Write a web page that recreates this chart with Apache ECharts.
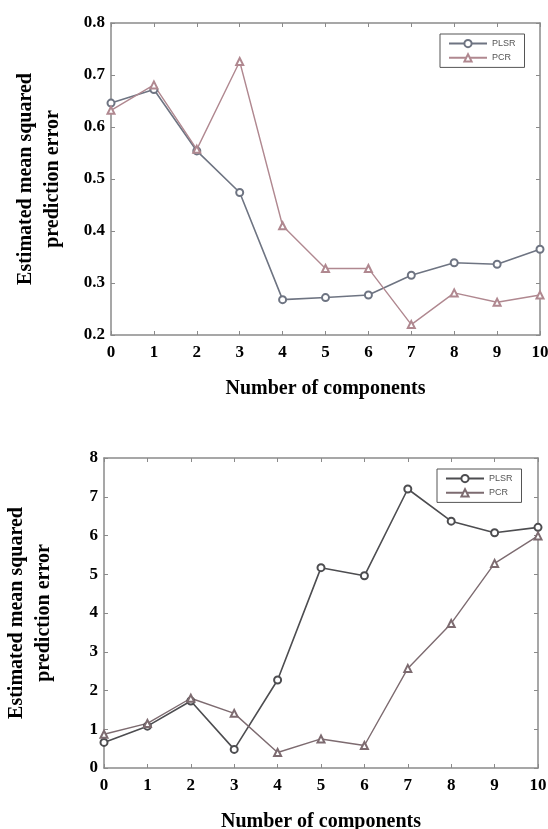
<!DOCTYPE html>
<html>
<head>
<meta charset="utf-8">
<style>
html,body{margin:0;padding:0;background:#fff;}
#chart{width:548px;height:829px;}
</style>
<script src="https://cdn.jsdelivr.net/npm/echarts@6/dist/echarts.min.js"></script>
</head>
<body>
<div id="chart"></div>
<script>
// ---- data ----
var components = [0,1,2,3,4,5,6,7,8,9,10];
var plsrTop = [0.646,0.672,0.554,0.474,0.268,0.272,0.277,0.315,0.339,0.336,0.365];
var pcrTop  = [0.632,0.681,0.557,0.726,0.410,0.328,0.328,0.220,0.281,0.263,0.277];
var plsrBottom = [0.66,1.08,1.73,0.48,2.27,5.17,4.96,7.20,6.37,6.07,6.21];
var pcrBottom  = [0.87,1.15,1.80,1.41,0.40,0.75,0.58,2.57,3.73,5.28,5.99];
var yTicksTop = [0.2,0.3,0.4,0.5,0.6,0.7,0.8];
var yTicksBottom = [0,1,2,3,4,5,6,7,8];
var xTitle = 'Number of components';
var yTitle = 'Estimated mean squared\nprediction error';

function pairs(xs, ys){ return xs.map(function(x,i){ return [x, ys[i]]; }); }

var serif = '"Liberation Serif","Times New Roman",serif';
var frame = '#8a8a8a';
var labelStyle = {color:'#000', fontFamily:serif, fontWeight:'bold', fontSize:17};

function xAx(grid, pos, show){
  return {type:'value', gridIndex:grid, position:pos, min:0, max:10, interval:1,
    axisLine:{show:true, onZero:false, lineStyle:{color:frame, width:1.5}},
    axisTick:{show:true, inside:true, length:4, lineStyle:{color:frame}},
    axisLabel:show ? Object.assign({margin:9, formatter:function(v){return String(v);}}, labelStyle) : {show:false},
    splitLine:{show:false},
    name: show ? xTitle : '', nameLocation:'middle', nameGap:44,
    nameTextStyle:{color:'#000', fontFamily:serif, fontWeight:'bold', fontSize:20}
  };
}
function yAx(grid, pos, show, ticks, digits, gap){
  var step = ticks[1]-ticks[0];
  return {type:'value', gridIndex:grid, position:pos, min:ticks[0], max:ticks[ticks.length-1], interval:step,
    axisLine:{show:true, onZero:false, lineStyle:{color:frame, width:1.5}},
    axisTick:{show:true, inside:true, length:4, lineStyle:{color:frame}},
    axisLabel:show ? Object.assign({margin:6, formatter:function(v){return v.toFixed(digits);}}, labelStyle) : {show:false},
    splitLine:{show:false},
    name: show ? yTitle : '', nameLocation:'middle', nameGap:gap, nameRotate:90,
    nameTextStyle:{color:'#000', fontFamily:serif, fontWeight:'bold', fontSize:20, lineHeight:27, align:'center'}
  };
}

function legend(left, top, names){
  return {orient:'vertical', left:left, top:top, data:names,
    formatter:function(n){return n.replace('_b','');},
    itemWidth:38, itemHeight:9, itemGap:5, padding:[5,9,5,8],
    borderColor:'#555', borderWidth:1, backgroundColor:'#fff',
    textStyle:{fontSize:9, color:'#555', fontFamily:'"Liberation Sans",Arial,sans-serif'}
  };
}

function line(name, xi, yi, data, color, symbol, lw){
  return {name:name, type:'line', xAxisIndex:xi, yAxisIndex:yi, data:data,
    symbol:symbol, symbolSize:7, showSymbol:true,
    lineStyle:{color:color, width:lw}, itemStyle:{color:color, borderWidth:1.3},
    emphasis:{disabled:true}, animation:false};
}

var option = {
  backgroundColor:'#fff',
  animation:false,
  grid:[
    {left:111, top:23, width:429, height:312, containLabel:false, outerBoundsMode:'none'},
    {left:104, top:458, width:434, height:310, containLabel:false, outerBoundsMode:'none'}
  ],
  xAxis:[xAx(0,'bottom',true), xAx(0,'top',false), xAx(1,'bottom',true), xAx(1,'top',false)],
  yAxis:[yAx(0,'left',true,yTicksTop,1,45), yAx(0,'right',false,yTicksTop,1,45),
         yAx(1,'left',true,yTicksBottom,0,47), yAx(1,'right',false,yTicksBottom,0,47)],
  legend:[legend(440,34,['PLSR','PCR']), legend(437,469,['PLSR_b','PCR_b'])],
  series:[
    line('PLSR',0,0,pairs(components,plsrTop),'#6e7482','emptyCircle',1.6),
    line('PCR',0,0,pairs(components,pcrTop),'#b08890','emptyTriangle',1.4),
    line('PLSR_b',2,2,pairs(components,plsrBottom),'#4d4d50','emptyCircle',1.6),
    line('PCR_b',2,2,pairs(components,pcrBottom),'#7d6b70','emptyTriangle',1.4)
  ]
};
var chart = echarts.init(document.getElementById('chart'), null, {renderer:'canvas'});
chart.setOption(option);
</script>
</body>
</html>
